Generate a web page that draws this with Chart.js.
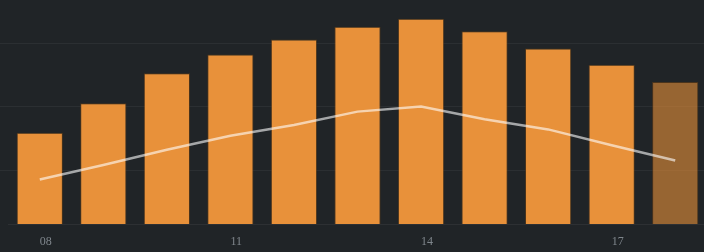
<!DOCTYPE html>
<html>
<head>
<meta charset="utf-8">
<script src="https://cdn.jsdelivr.net/npm/chart.js@4.4.1/dist/chart.umd.min.js"></script>
<style>
  html, body { margin: 0; padding: 0; background: #202427; overflow: hidden; }
  #wrap { width: 704px; height: 252px; overflow: hidden; }
</style>
</head>
<body>
<div id="wrap"><canvas id="myChart" width="708" height="252"></canvas></div>
<script>
// hours of the day
const hours = ['08', '09', '10', '11', '12', '13', '14', '15', '16', '17', '18'];
// bar series
const barValues = [228, 302, 377, 424, 461, 493, 513, 482, 439, 398, 355];
// line series
const lineValues = [8.5, 10.8, 13.2, 15.4, 17.1, 19.2, 20.0, 18.0, 16.4, 13.9, 11.5];
// grid lines of the line axis
const gridTicks = [10, 20, 30];

document.addEventListener("DOMContentLoaded", function() {
    const barColors = barValues.map((v, i) =>
        i === barValues.length - 1 ? 'rgba(232, 145, 58, 0.6)' : 'rgb(232, 145, 58)');

    var ctx = document.getElementById('myChart').getContext('2d');
    var config = {
        type: 'bar',
        data: {
            labels: hours,
            datasets: [{
                type: 'line',
                data: lineValues,
                yAxisID: 'y1',
                borderColor: 'rgba(255, 255, 255, 0.6)',
                borderWidth: 2.5,
                pointRadius: 0,
                tension: 0,
                order: 0
            }, {
                type: 'bar',
                data: barValues,
                yAxisID: 'y',
                backgroundColor: barColors,
                borderColor: 'rgba(110, 65, 20, 0.55)',
                borderWidth: 1,
                categoryPercentage: 0.8,
                barPercentage: 0.91,
                order: 1
            }]
        },
        options: {
            responsive: false,
            animation: false,
            layout: { padding: { left: 0, right: 1, top: 0, bottom: 0 } },
            plugins: { legend: { display: false }, tooltip: { enabled: false } },
            scales: {
                x: {
                    grid: { display: false, drawTicks: false },
                    border: { display: true, color: 'rgba(255, 255, 255, 0.06)' },
                    ticks: {
                        autoSkip: false,
                        maxRotation: 0,
                        align: 'start',
                        padding: 11,
                        color: '#7f868c',
                        font: { family: "'Liberation Serif', serif", size: 12 },
                        callback: function(value, index) {
                            return index % 3 === 0 ? hours[index] : '';
                        }
                    },
                    afterFit: function(scale) { scale.height = 28; }
                },
                y: {
                    display: false,
                    min: 0,
                    max: 560
                },
                y1: {
                    position: 'left',
                    min: 1.5,
                    max: 36.78,
                    grid: { color: 'rgba(255, 255, 255, 0.05)', drawTicks: true, tickLength: 8 },
                    border: { display: false },
                    ticks: { display: false },
                    afterBuildTicks: function(scale) {
                        scale.ticks = gridTicks.map(v => ({ value: v }));
                    },
                    afterFit: function(scale) { scale.width = 8; }
                }
            }
        }
    };

    var myChart = new Chart(ctx, config);
});
</script>
</body>
</html>
